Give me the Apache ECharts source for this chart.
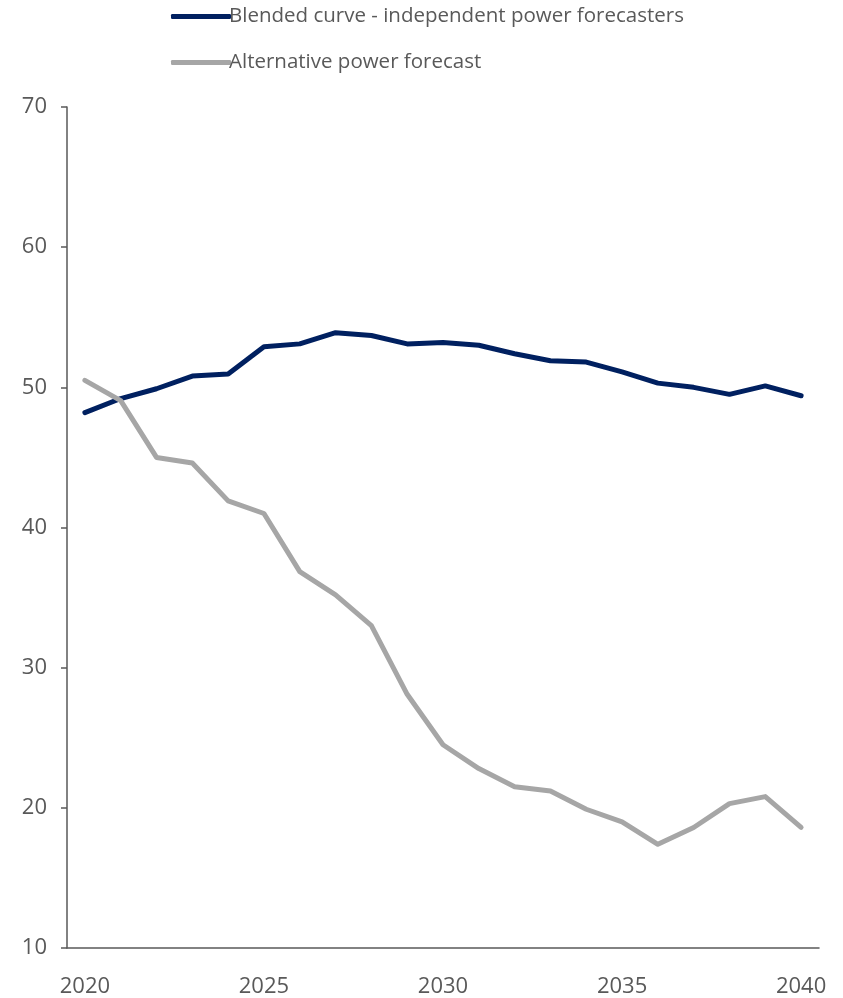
<!DOCTYPE html>
<html>
<head>
<meta charset="utf-8">
<script src="https://cdn.jsdelivr.net/npm/echarts@6/dist/echarts.min.js"></script>
<style>
  html, body { margin: 0; padding: 0; background: #fff; }
  #chart { width: 843px; height: 998px; }
</style>
</head>
<body>
<div id="chart"></div>
<script>
// Years on the horizontal axis
const years = ['2020','2021','2022','2023','2024','2025','2026','2027','2028','2029','2030',
               '2031','2032','2033','2034','2035','2036','2037','2038','2039','2040'];

// Blended curve from independent power forecasters
const blendedCurve = [48.2, 49.2, 49.9, 50.8, 50.95, 52.9, 53.1, 53.9, 53.7, 53.1, 53.2,
                      53.0, 52.4, 51.9, 51.8, 51.1, 50.3, 50.0, 49.5, 50.1, 49.4];

// Alternative power forecast
const alternativeForecast = [50.5, 49.05, 45.0, 44.6, 41.9, 41.0, 36.85, 35.2, 33.0, 28.1, 24.5,
                             22.8, 21.5, 21.2, 19.9, 19.0, 17.4, 18.6, 20.3, 20.8, 18.6];

const seriesNames = ['Blended curve - independent power forecasters', 'Alternative power forecast'];

const NAVY = '#002060';
const GREY = '#A6A6A6';
const TEXT = '#595959';
const FONT = '"Open Sans", sans-serif';

const chart = echarts.init(document.getElementById('chart'), null, { renderer: 'canvas' });

chart.setOption({
  animation: false,
  backgroundColor: '#fff',
  color: [NAVY, GREY],
  legend: {
    orient: 'vertical',
    left: 166,
    top: 1,
    itemWidth: 60,
    itemHeight: 5,
    itemGap: 25,
    icon: 'roundRect',
    textStyle: { color: TEXT, fontFamily: FONT, fontSize: 20.5, padding: [0, 0, 0, -7] },
    data: seriesNames
  },
  grid: { left: 67, right: 24, top: 107, bottom: 46, containLabel: false },
  xAxis: {
    type: 'category',
    data: years,
    boundaryGap: true,
    axisLine: { lineStyle: { color: TEXT, width: 1.5 } },
    axisTick: { interval: 4, length: 6, lineStyle: { color: TEXT, width: 1.5 } },
    axisLabel: { interval: 4, color: TEXT, fontFamily: FONT, fontSize: 22, margin: 28 },
    splitLine: { show: false }
  },
  yAxis: {
    type: 'value',
    min: 10,
    max: 70,
    interval: 10,
    axisLine: { show: true, lineStyle: { color: TEXT, width: 1.5 } },
    axisTick: { show: true, length: 6, lineStyle: { color: TEXT, width: 1.5 } },
    axisLabel: { color: TEXT, fontFamily: FONT, fontSize: 22, margin: 20 },
    splitLine: { show: false }
  },
  series: [
    {
      name: seriesNames[0],
      type: 'line',
      data: blendedCurve,
      symbol: 'none',
      lineStyle: { color: NAVY, width: 5, cap: 'round', join: 'round' },
      itemStyle: { color: NAVY }
    },
    {
      name: seriesNames[1],
      type: 'line',
      data: alternativeForecast,
      symbol: 'none',
      lineStyle: { color: GREY, width: 5, cap: 'round', join: 'round' },
      itemStyle: { color: GREY }
    }
  ]
});
</script>
</body>
</html>
